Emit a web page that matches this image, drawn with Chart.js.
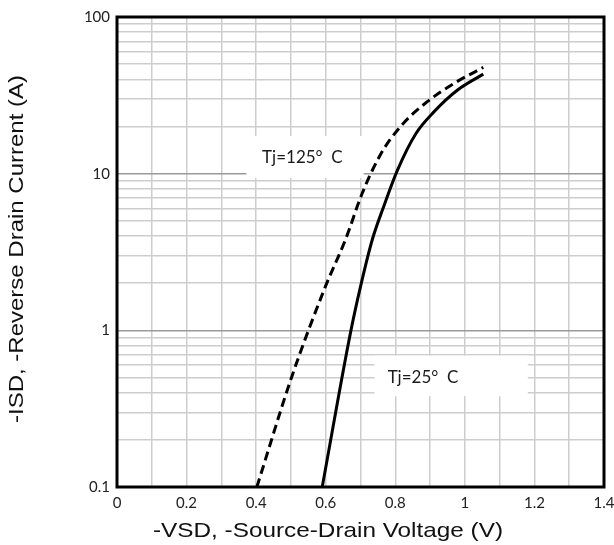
<!DOCTYPE html>
<html><head><meta charset="utf-8">
<script src="https://cdn.jsdelivr.net/npm/chart.js@4"></script>
<style>html,body{margin:0;padding:0;background:#fff}#wrap{width:614px;height:545px}</style>
</head><body><div id="wrap"><canvas id="c" width="614" height="545"></canvas></div>
<script>
const vsd25 = [0.590, 0.671, 0.700, 0.734, 0.767, 0.806, 0.859, 0.911, 0.979, 1.053];
const isd25 = [0.1, 0.96, 1.9, 3.8, 6.2, 10.5, 18.0, 24.8, 34.2, 43.2];
const vsd125 = [0.402, 0.503, 0.599, 0.657, 0.705, 0.758, 0.815, 0.892, 0.969, 1.053];
const isd125 = [0.1, 0.51, 1.9, 3.8, 7.5, 13.3, 20, 28.8, 37.7, 47.7];
const xTicks = [0, 0.2, 0.4, 0.6, 0.8, 1, 1.2, 1.4];
const yTicks = [0.1, 1, 10, 100];
const xTitle = '-VSD, -Source-Drain Voltage (V)';
const yTitle = '-ISD, -Reverse Drain Current (A)';
const labels = [
  {text: 'Tj=125°  C', x0: 0.372, x1: 0.709, y0: 9.4, y1: 17.4, tx: 0.533, ty: 12.6},
  {text: 'Tj=25°  C', x0: 0.740, x1: 1.181, y0: 0.38, y1: 0.69, tx: 0.778, ty: 0.50, left: true}
];

const pts = (xs, ys) => xs.map((x, i) => ({x, y: ys[i]}));
const isDecade = v => Math.abs(Math.log10(v) - Math.round(Math.log10(v))) < 1e-6;

function stretchedText(ctx, text, cx, cy, width, rot) {
  ctx.save();
  ctx.translate(cx, cy);
  if (rot) ctx.rotate(-Math.PI / 2);
  ctx.font = '21px "Liberation Sans", Arial, sans-serif';
  const w = ctx.measureText(text).width;
  ctx.scale(width / w, 1);
  ctx.fillStyle = '#111';
  ctx.textAlign = 'center';
  ctx.textBaseline = 'middle';
  ctx.fillText(text, 0, 0);
  ctx.restore();
}

const frame = {
  id: 'frame',
  beforeDatasetsDraw(chart) {
    const {ctx, scales: {x, y}} = chart;
    ctx.save();
    labels.forEach(l => {
      const px0 = x.getPixelForValue(l.x0), px1 = x.getPixelForValue(l.x1);
      const py0 = y.getPixelForValue(l.y1), py1 = y.getPixelForValue(l.y0);
      ctx.fillStyle = '#fff';
      ctx.fillRect(px0, py0, px1 - px0, py1 - py0);
      ctx.fillStyle = '#1a1a1a';
      ctx.font = '17px Lato, "Open Sans", sans-serif';
      ctx.textAlign = l.left ? 'left' : 'center';
      ctx.textBaseline = 'middle';
      ctx.fillText(l.text, x.getPixelForValue(l.tx), y.getPixelForValue(l.ty));
    });
    ctx.restore();
  },
  afterDraw(chart) {
    const {ctx, chartArea: a} = chart;
    ctx.save();
    ctx.strokeStyle = '#000';
    ctx.lineWidth = 3;
    ctx.strokeRect(a.left, a.top, a.right - a.left, a.bottom - a.top);
    ctx.restore();
    stretchedText(ctx, xTitle, 328, 531, 350, false);
    stretchedText(ctx, yTitle, 17, 249, 348, true);
  }
};

new Chart(document.getElementById('c'), {
  type: 'scatter',
  data: {
    datasets: [
      {data: pts(vsd25, isd25), showLine: true, borderColor: '#000', borderWidth: 3, pointRadius: 0, cubicInterpolationMode: 'monotone', fill: false},
      {data: pts(vsd125, isd125), showLine: true, borderColor: '#000', borderWidth: 3, borderDash: [9, 5], pointRadius: 0, cubicInterpolationMode: 'monotone', fill: false}
    ]
  },
  options: {
    responsive: false,
    animation: false,
    devicePixelRatio: 1,
    layout: {padding: {top: 17, right: 10, left: 0, bottom: 0}},
    plugins: {legend: {display: false}, tooltip: {enabled: false}},
    scales: {
      x: {
        type: 'linear', min: 0, max: 1.4,
        afterBuildTicks: s => { s.ticks = Array.from({length: 15}, (_, i) => ({value: i / 10})); },
        afterFit: s => { s.height = 58; s.paddingRight = 0; s.paddingLeft = 0; },
        grid: {color: '#cdcdcd', lineWidth: 1.5, drawTicks: false},
        border: {display: false},
        ticks: {
          padding: 7, color: '#222', font: {family: 'Lato', size: 15},
          autoSkip: false, maxRotation: 0,
          callback: v => { const r = Math.round(v * 10) / 10; return xTicks.some(t => Math.abs(t - r) < 1e-6) ? String(r) : ''; }
        },
        title: {display: false}
      },
      y: {
        type: 'logarithmic', min: 0.1, max: 100,
        afterBuildTicks: s => {
          const t = [];
          [0.1, 1, 10].forEach(d => { for (let k = 1; k < 10; k++) t.push({value: +(d * k).toPrecision(3)}); });
          t.push({value: 100});
          s.ticks = t;
        },
        afterFit: s => { s.width = 117; s.paddingTop = 0; s.paddingBottom = 0; },
        grid: {color: c => (c.tick && isDecade(c.tick.value)) ? '#9a9a9a' : '#cdcdcd', lineWidth: 1.5, drawTicks: false},
        border: {display: false},
        ticks: {
          padding: 7, color: '#222', font: {family: 'Lato', size: 15}, autoSkip: false,
          callback: v => yTicks.some(t => Math.abs(t - v) < 1e-9) ? String(v) : ''
        },
        title: {display: false}
      }
    }
  },
  plugins: [frame]
});
</script>
</body></html>
